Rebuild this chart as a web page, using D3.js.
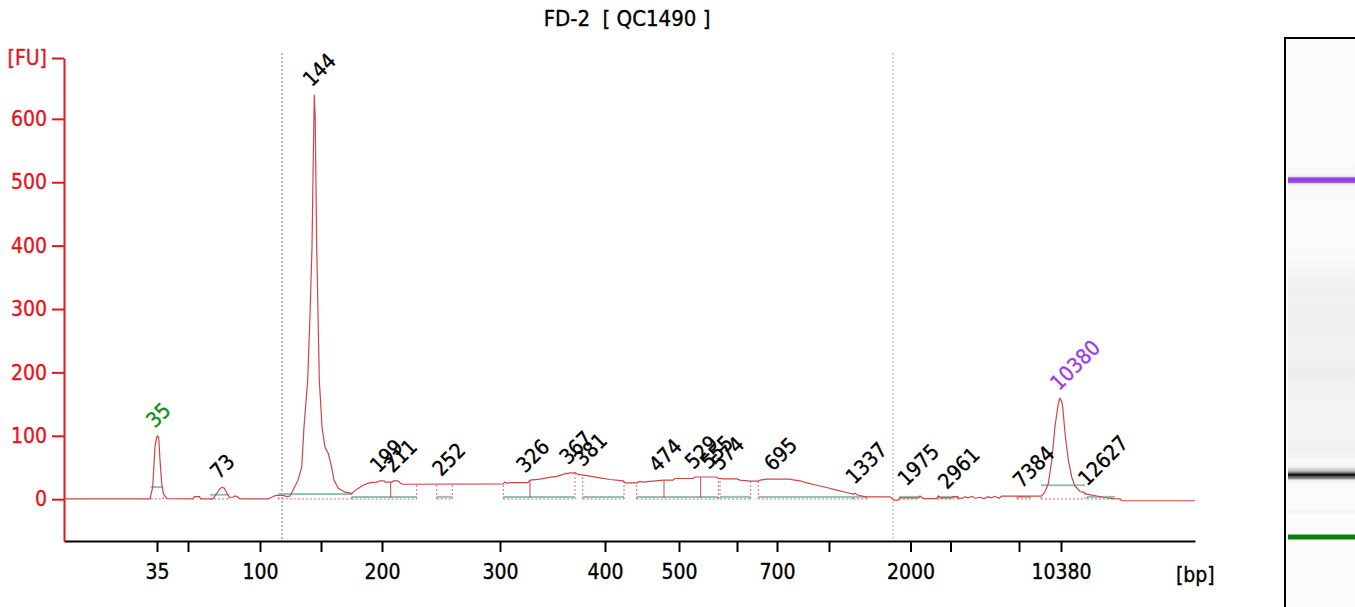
<!DOCTYPE html>
<html>
<head>
<meta charset="utf-8">
<script src="https://cdn.jsdelivr.net/npm/d3@7"></script>
<style>
  body { margin: 0; background: #fff; }
  svg text { font-family: "DejaVu Sans Condensed", "Liberation Sans", sans-serif; stroke-width: 0.35px; }
</style>
</head>
<body>
<svg id="chart" width="1355" height="607"></svg>
<script>
// ladder: fragment size vs migration time (s)
const ladderBp = [35, 50, 100, 150, 200, 300, 400, 500, 600, 700, 1000, 2000, 3000, 7000, 10380];
const ladderTime = [39.3, 42.4, 49.6, 55.7, 61.8, 73.6, 84.1, 91.5, 97.3, 101.3, 106.5, 114.65, 118.65, 125.5, 129.7];
const labeledBp = [35, 100, 200, 300, 400, 500, 700, 2000, 10380];
const fuTicks = [0, 100, 200, 300, 400, 500, 600];

// electropherogram trace
const traceTime = [30.0, 38.6, 38.87, 39.1, 39.27, 39.37, 39.47, 39.6, 39.77, 39.93, 40.27,
  42.9, 43.05, 43.55, 43.65, 44.9, 45.27, 45.6, 45.85, 46.05, 46.3, 46.53, 46.9, 47.1, 47.3, 47.6,
  50.4, 50.8, 51.2, 51.9, 52.3, 52.6, 52.9, 53.4, 53.77, 54.0, 54.37, 54.6, 54.8, 54.95, 55.03,
  55.12, 55.27, 55.53, 55.8, 56.1, 56.43, 56.77, 57.0, 57.43, 58.1, 58.77, 59.4, 59.9, 60.6,
  61.27, 61.6, 62.0, 62.15, 62.8, 62.95, 63.4, 63.65, 63.9, 73.9, 74.1, 74.3, 74.6, 76.4, 76.6,
  77.6, 78.4, 79.27, 79.9, 80.2, 80.4, 80.6, 80.8, 81.1, 81.4, 82.27, 83.6, 84.6, 85.93, 86.1,
  87.27, 87.6, 87.9, 88.6, 90.0, 90.9, 91.1, 92.9, 93.1, 95.27, 95.4, 95.9, 97.27, 97.6, 98.6,
  99.43, 99.6, 100.27, 102.6, 102.93, 103.6, 104.27, 105.27, 106.27, 107.27, 108.27, 108.93,
  109.1, 109.3, 109.6, 110.1, 112.6, 112.8, 113.0, 113.4, 113.6, 115.4, 115.6, 115.93, 117.27,
  117.43, 117.6, 118.1, 118.8, 118.9, 119.3, 119.4, 119.9, 120.1, 120.4, 120.8, 121.1, 121.6,
  122.0, 122.4, 122.7, 123.1, 123.5, 123.77, 127.6, 127.77, 128.1, 128.43, 128.77, 129.1,
  129.43, 129.6, 129.77, 129.87, 130.1, 130.43, 130.77, 131.1, 131.27, 131.6, 131.93, 132.27,
  133.27, 133.93, 134.93, 135.6, 135.77, 143.1];
const traceFU = [0.5, 0.5, 19, 83, 98, 100, 97, 62, 25, 9, 1,
  0.5, 4, 4, 0.5, 0.5, 9, 17, 19, 17, 9, 3, 3, 5, 4, 0.5,
  0.5, 3.5, 6, 6, 4, 5, 14, 30, 50, 114, 188, 290, 398, 560, 638,
  600, 398, 188, 114, 82, 72, 50, 30, 17, 11, 9, 17, 22, 26,
  27, 29, 29, 27, 27, 29, 29, 25, 23.5, 24, 27, 25, 26, 26, 30,
  31.6, 34, 36, 39, 41, 40, 42, 41, 42, 39, 37, 33.6, 31, 29, 25.7,
  25.7, 28, 27, 28, 30, 30, 32.6, 32.6, 35, 35, 33, 32, 32, 30, 28.4,
  28.4, 30, 31.6, 31.6, 30.5, 29, 25.8, 22, 18.4, 14.2, 10.5, 7.9,
  9.5, 7, 5.8, 3.7, 3.7, 1, -1.6, -1.6, 2, 2, 5, 1, 1,
  5, 2, 2, 2, 4, 4, 1.5, 1.5, 4, 2, 4.5, 1.5, 3,
  1, 4, 2, 4.5, 1.5, 4.7, 4.7, 5, 11.6, 24.7, 60, 115,
  151, 159, 154, 146, 104, 62, 35, 20, 18, 12, 11, 8,
  5, 3, 1, 0.5, -2.5, -2.5];

// called peaks
const peakBp = [35, 73, 144, 199, 211, 252, 326, 367, 381, 474, 529, 555, 574, 695, 1337, 1975, 2961, 7384, 10380, 12627];
const peakFU = [100, 19, 638, 29, 29, 23.5, 29, 42, 39, 30, 35, 35, 33, 32, 11, 8, 3, 5, 159, 8];
const lowerMarker = 35;
const upperMarker = 10380;

// integration regions (s) and their baseline level (FU)
const regionFrom = [38.67, 44.6, 51.43, 58.77, 67.27, 73.93, 81.87, 87.27, 95.6, 99.43, 108.93, 113.5, 117.3, 125.3, 127.7, 132.3];
const regionTo = [39.93, 46.53, 58.77, 65.27, 68.83, 81.1, 86.0, 95.43, 98.67, 108.93, 110.3, 115.5, 119.5, 126.6, 132.1, 135.1];
const regionLevel = [19, 7, 8, 3.6, 3.6, 3.6, 3.6, 3.6, 3.6, 3.6, 3.6, 3.6, 3.6, 3.6, 22, 3.6];
const dropTime = [62.67, 76.6, 90.0, 93.67];
const windowTime = [51.8, 112.9];

const svg = d3.select("#chart");

const x = d3.scaleLinear().domain([30, 143.1]).range([64, 1195]);
const y = d3.scaleLinear().domain([-66, 696]).range([541, 58]);
const bpToTime = d3.scaleLinear().domain(ladderBp).range(ladderTime);
const gelY = d3.scaleLinear().domain([ladderTime[0], ladderTime[ladderTime.length - 1]]).range([537, 180]);
const gray = d3.scaleLinear().domain([0, 45, 150, 640])
  .range(["#fbfbfb", "#ececec", "#777777", "#000000"]).clamp(true);

function traceAt(t) {
  const i = d3.bisectLeft(traceTime, t);
  if (i <= 0) return traceFU[0];
  if (i >= traceTime.length) return traceFU[traceFU.length - 1];
  const t0 = traceTime[i - 1], t1 = traceTime[i];
  return traceFU[i - 1] + (traceFU[i] - traceFU[i - 1]) * (t - t0) / (t1 - t0);
}

// title
svg.append("text")
  .attr("x", 627).attr("y", 26)
  .attr("text-anchor", "middle")
  .attr("font-size", 22)
  .attr("stroke", "#000")
  .style("white-space", "pre")
  .text("FD-2  [ QC1490 ]");

// window lines
svg.selectAll(".win").data(windowTime).enter().append("line")
  .attr("x1", d => x(d)).attr("x2", d => x(d))
  .attr("y1", 53).attr("y2", 541)
  .attr("stroke", (d, i) => i === 0 ? "#6c6cc4" : "#aaaac8")
  .attr("stroke-width", 1)
  .attr("stroke-dasharray", "2,2");

// region baselines
const regions = regionFrom.map((f, i) => ({ from: f, to: regionTo[i], level: regionLevel[i] }));

svg.selectAll(".base0").data(regions).enter().append("line")
  .attr("x1", d => x(d.from)).attr("x2", d => x(d.to))
  .attr("y1", y(0.3)).attr("y2", y(0.3))
  .attr("stroke", "#e06a6a").attr("stroke-width", 1)
  .attr("stroke-dasharray", "2,2");

svg.selectAll(".teal").data(regions).enter().append("line")
  .attr("x1", d => x(d.from)).attr("x2", d => x(d.to))
  .attr("y1", d => y(d.level)).attr("y2", d => y(d.level))
  .attr("stroke", "#8ec3b8").attr("stroke-width", 2);

const edges = regions.flatMap(d => [d.from, d.to]);
svg.selectAll(".edge").data(edges).enter().append("line")
  .attr("x1", d => x(d)).attr("x2", d => x(d))
  .attr("y1", y(0.3)).attr("y2", d => y(traceAt(d)))
  .attr("stroke", "#e06a6a").attr("stroke-width", 1)
  .attr("stroke-dasharray", "2,2");

svg.selectAll(".drop").data(dropTime).enter().append("line")
  .attr("x1", d => x(d)).attr("x2", d => x(d))
  .attr("y1", y(2)).attr("y2", d => y(traceAt(d)))
  .attr("stroke", "#c84848").attr("stroke-width", 1);

// trace
const line = d3.line()
  .x((d, i) => x(traceTime[i]))
  .y(d => y(d));
svg.append("path")
  .datum(traceFU)
  .attr("d", line)
  .attr("fill", "none")
  .attr("stroke", "#cf4545")
  .attr("stroke-width", 1.2);

// axes
const xAxis = d3.axisBottom(x)
  .tickValues(ladderBp.map(bpToTime))
  .tickFormat((d, i) => labeledBp.includes(ladderBp[i]) ? ladderBp[i] : "")
  .tickSizeInner(11).tickSizeOuter(0).tickPadding(12);
const gx = svg.append("g").attr("transform", "translate(0,541)").call(xAxis);
gx.selectAll("path, line").attr("stroke", "#000").attr("stroke-width", 2);
gx.selectAll("text").attr("font-size", 21).attr("font-family", null)
  .attr("fill", "#000").attr("stroke", "#000");

svg.append("text")
  .attr("x", 1176).attr("y", 582)
  .attr("font-size", 21)
  .attr("stroke", "#000")
  .text("[bp]");

const yAxis = d3.axisLeft(y)
  .tickValues(fuTicks.concat([y.domain()[1]]))
  .tickFormat(d => d === y.domain()[1] ? "[FU]" : d)
  .tickSizeInner(12).tickSizeOuter(0).tickPadding(5);
const gy = svg.append("g").attr("transform", "translate(64,0)").call(yAxis);
gy.selectAll("path, line").attr("stroke", "#e8141c").attr("stroke-width", 2);
gy.selectAll("text").attr("font-size", 21).attr("font-family", null)
  .attr("fill", "#e8141c").attr("stroke", "#e8141c");

// peak labels
const peakColor = d => d === lowerMarker ? "#128a12" : d === upperMarker ? "#9a3cf2" : "#000";
svg.selectAll(".peak").data(peakBp).enter().append("text")
  .attr("transform", (d, i) => {
    const px = x(bpToTime(d)) - 2, py = y(peakFU[i]) - 7;
    return `translate(${px},${py}) rotate(-45)`;
  })
  .attr("font-size", 21)
  .attr("fill", peakColor)
  .attr("stroke", peakColor)
  .text(d => d);

// gel lane
const defs = svg.append("defs");
const grad = defs.append("linearGradient")
  .attr("id", "gelGrad")
  .attr("gradientUnits", "userSpaceOnUse")
  .attr("x1", 0).attr("x2", 0)
  .attr("y1", gelY(x.domain()[0])).attr("y2", gelY(x.domain()[1]));
const span = x.domain()[1] - x.domain()[0];
grad.selectAll("stop").data(traceTime).enter().append("stop")
  .attr("offset", d => (d - x.domain()[0]) / span)
  .attr("stop-color", (d, i) => gray(traceFU[i]));

svg.append("rect")
  .attr("x", 1288).attr("y", 39)
  .attr("width", 67).attr("height", 568)
  .attr("fill", "url(#gelGrad)");

svg.selectAll(".marker").data([lowerMarker, upperMarker]).enter().append("rect")
  .attr("x", 1288).attr("width", 67)
  .attr("y", d => gelY(bpToTime(d)) - 2.5).attr("height", 5)
  .attr("fill", d => d === lowerMarker ? "#0a820a" : "#9a3cf2");

svg.append("path")
  .attr("d", "M1285,607V38H1355")
  .attr("fill", "none")
  .attr("stroke", "#000")
  .attr("stroke-width", 2);
</script>
</body>
</html>
